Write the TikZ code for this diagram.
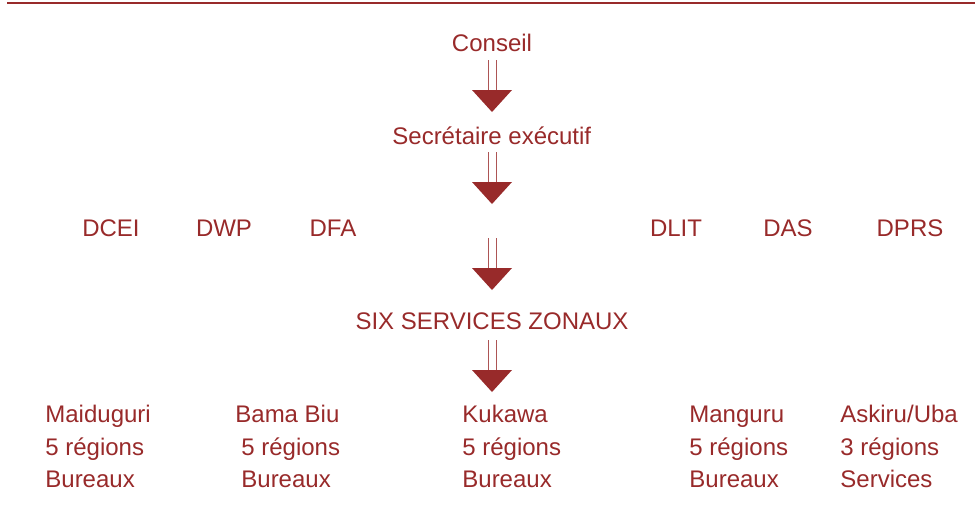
\documentclass[tikz,border=0pt]{standalone}
\usepackage{fontspec}
\setmainfont{Liberation Sans}
\definecolor{dred}{RGB}{152,42,42}
\begin{document}
\begin{tikzpicture}[x=0.5pt,y=-0.5pt,
  lbl/.style={text=dred,inner sep=0pt,anchor=base west,font=\fontsize{12}{14}\selectfont},
  clbl/.style={text=dred,inner sep=0pt,anchor=base,font=\fontsize{12}{14}\selectfont},
  dblarrow/.pic={
    \draw[dred!80,line width=0.5pt] (-4,0) -- (-4,30) (4,0) -- (4,30);
    \fill[dred] (-20,30) -- (20,30) -- (0,52) -- cycle;
  }]
\useasboundingbox (0,0) rectangle (975,515);
\draw[dred,line width=1.2pt] (7,3) -- (975,3);
\node[clbl] (conseil) at (492,51) {Conseil};
\node[lbl] (secr) at (392,144) {Secrétaire exécutif};
\node[clbl] (dcei) at (111,236) {DCEI};
\node[clbl] (dwp) at (224,236) {DWP};
\node[clbl] (dfa) at (333,236) {DFA};
\node[clbl] (dlit) at (676,236) {DLIT};
\node[clbl] (das) at (788,236) {DAS};
\node[clbl] (dprs) at (910,236) {DPRS};
\node[clbl] (six) at (492,329) {SIX SERVICES ZONAUX};
\pic at (492,60) {dblarrow};
\pic at (492,152) {dblarrow};
\pic at (492,238) {dblarrow};
\pic at (492,340) {dblarrow};
% columns
\node[lbl] (m1) at (45,422) {Maiduguri};
\node[lbl] (m2) at (45,455) {5 régions};
\node[lbl] (m3) at (45,487) {Bureaux};
\node[lbl] (b1) at (235,422) {Bama Biu};
\node[lbl] (b2) at (241,455) {5 régions};
\node[lbl] (b3) at (241,487) {Bureaux};
\node[lbl] (k1) at (462,422) {Kukawa};
\node[lbl] (k2) at (462,455) {5 régions};
\node[lbl] (k3) at (462,487) {Bureaux};
\node[lbl] (g1) at (689,422) {Manguru};
\node[lbl] (g2) at (689,455) {5 régions};
\node[lbl] (g3) at (689,487) {Bureaux};
\node[lbl] (a1) at (840,422) {Askiru/Uba};
\node[lbl] (a2) at (840,455) {3 régions};
\node[lbl] (a3) at (840,487) {Services};
\end{tikzpicture}
\end{document}
